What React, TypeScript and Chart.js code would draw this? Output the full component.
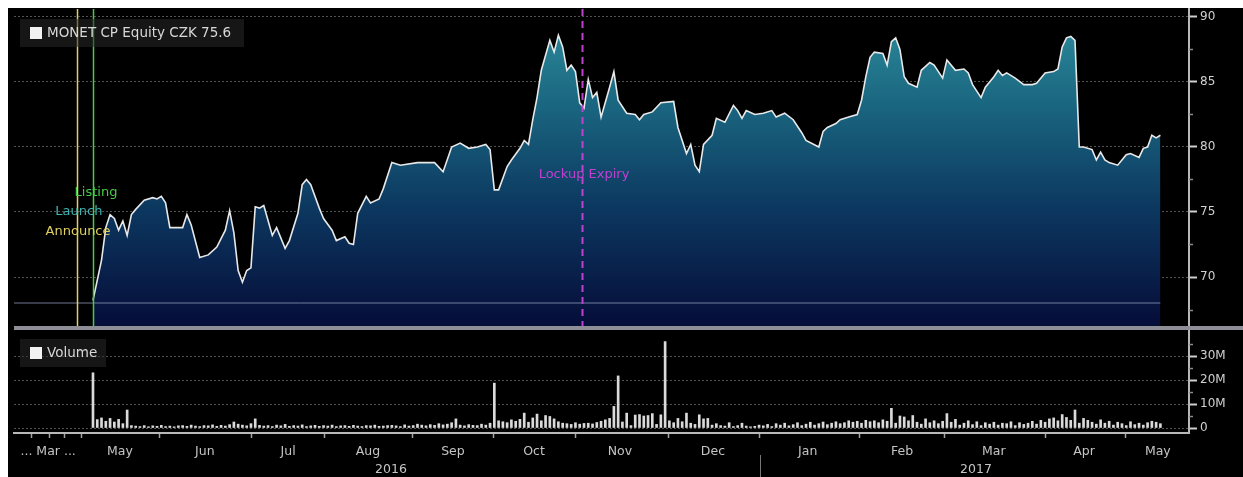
import { useEffect, useRef } from 'react';
import { Chart, registerables } from 'chart.js';

Chart.register(...registerables);

const FONT = '"DejaVu Sans", sans-serif';

// ---- data (trading-day index from listing day = 0) ----
const priceDays = [
  0, 2, 3, 4, 5, 6, 7, 8, 9, 10, 12, 14, 15, 16, 17, 18, 21, 22, 23, 25, 27, 29, 31, 32, 33, 34, 35, 36, 37, 38,
  39, 40, 42, 43, 45, 46, 48, 49, 50, 51, 53, 54, 56, 57, 59, 60, 61, 62, 64, 65, 67, 68, 70, 72, 76, 79, 80, 82,
  84, 86, 88, 90, 92, 93, 94, 95, 97, 98, 100, 101, 102, 103, 104, 105, 107, 108, 109, 110, 111, 112, 113, 114,
  115, 116, 117, 118, 119, 121, 122, 123, 125, 127, 128, 129, 131, 133, 136, 137, 139, 140, 141, 142, 143, 145,
  146, 148, 150, 151, 152, 153, 155, 157, 159, 160, 162, 164, 166, 167, 170, 171, 172, 174, 175, 177, 179, 180,
  181, 182, 183, 185, 186, 187, 188, 189, 190, 191, 193, 194, 196, 197, 199, 200, 202, 204, 205, 206, 208, 209,
  211, 212, 213, 214, 216, 218, 220, 221, 223, 225, 226, 227, 228, 229, 230, 231, 232, 234, 235, 236, 237, 238,
  240, 242, 243, 245, 246, 247, 248, 249, 250,
];
const priceValues = [
  68.2, 71.3, 73.8, 74.8, 74.5, 73.6, 74.3, 73.2, 74.8, 75.2, 75.9, 76.1, 76.0, 76.2, 75.7, 73.8, 73.8, 74.8, 74.0,
  71.5, 71.7, 72.3, 73.6, 75.1, 73.4, 70.5, 69.6, 70.5, 70.7, 75.4,
  75.3, 75.5, 73.2, 73.8, 72.2, 72.8, 74.9, 77.1, 77.5, 77.1, 75.3, 74.5, 73.6, 72.8, 73.1, 72.6, 72.5, 74.9, 76.2,
  75.7, 76.0, 76.8, 78.8, 78.6, 78.8, 78.8, 78.8, 78.1,
  80.0, 80.3, 79.9, 80.0, 80.2, 79.8, 76.7, 76.7, 78.5, 79.0, 79.9, 80.5, 80.2, 82.1, 83.8, 85.9, 88.2, 87.3, 88.6,
  87.7, 85.9, 86.3, 85.8, 83.4,
  83.0, 85.2, 83.8, 84.2, 82.3, 84.6, 85.8, 83.6, 82.6, 82.5, 82.1, 82.5, 82.7, 83.4, 83.5, 81.5, 79.5, 80.2, 78.6,
  78.1, 80.2, 80.9,
  82.2, 81.9, 83.2, 82.8, 82.2, 82.8, 82.5, 82.6, 82.8, 82.3, 82.6, 82.1, 81.1, 80.5, 80.0, 81.2, 81.5, 81.8, 82.1,
  82.3, 82.5, 83.6,
  85.4, 86.9, 87.3, 87.2, 86.3, 88.1, 88.4, 87.5, 85.4, 84.9, 84.6, 85.9, 86.5, 86.3, 85.3, 86.7, 85.9, 86.0, 85.7,
  84.8, 83.8, 84.6,
  85.4, 85.9, 85.5, 85.7, 85.3, 84.8, 84.8, 84.9, 85.7, 85.8, 86.0, 87.7, 88.4, 88.5, 88.2, 80.0, 80.0, 79.8, 79.0,
  79.6, 79.0, 78.8,
  78.6, 79.4, 79.5, 79.2, 79.9, 80.0, 80.9, 80.7, 80.9,
];
// daily volume, millions of shares (index = trading day)
const volumeMillions = [
  23, 3.5, 4.2, 2.8, 4.0, 2.5, 3.6, 1.8, 7.5, 1.0,
  0.8, 0.6, 1.0, 0.5, 0.9, 0.7, 1.1, 0.6, 0.8, 0.5,
  0.9, 1.0, 0.7, 1.2, 0.8, 0.6, 1.0, 0.9, 1.3, 0.7,
  1.1, 0.8, 1.4, 2.5, 1.6, 1.2, 0.9, 1.8, 3.8, 1.1,
  0.8, 1.0, 0.6, 1.2, 0.9, 1.5, 0.7, 1.0, 0.8, 1.3,
  0.6, 0.9, 1.1, 0.7, 1.0, 0.8, 1.2, 0.6, 0.9, 1.0,
  0.7, 1.1, 0.8, 0.6, 1.0, 0.9, 1.2, 0.7, 0.8, 1.0,
  1.1, 0.9, 0.6, 1.3, 0.8, 1.0, 1.6, 1.2, 0.9, 1.4,
  1.1, 1.8, 1.3, 1.6, 2.2, 3.8, 1.2, 0.9, 1.4, 1.1,
  1.0, 1.6, 1.2, 2.0, 18.7, 3.0, 2.6, 2.2, 3.4, 2.8,
  3.6, 6.2, 2.4, 4.2, 5.8, 3.0, 5.2, 4.8, 3.8, 2.6,
  2.0, 1.8, 1.5, 2.2, 1.6, 1.9, 2.0, 1.7, 2.3, 2.8,
  3.4, 4.0, 9.0, 21.7, 2.5, 6.2, 1.0, 5.4, 5.6, 5.0,
  5.2, 6.0, 1.5, 5.5, 36, 3.0, 2.2, 4.0, 2.6, 6.2,
  2.0, 1.5, 5.5, 3.8, 4.0, 1.2, 1.8, 1.0, 0.8, 2.2,
  0.6, 1.0, 2.0, 0.8, 0.5, 0.7, 1.2, 0.9, 1.5, 0.6,
  1.8, 1.2, 2.0, 0.9, 1.4, 2.2, 1.0, 1.6, 2.4, 1.2,
  1.8, 2.5, 1.4, 2.0, 2.6, 1.8, 2.2, 3.0, 2.4, 2.8,
  2.0, 3.2, 2.6, 3.0, 2.2, 3.4, 2.8, 8.2, 2.0, 5.0,
  4.6, 3.0, 5.2, 2.4, 1.6, 3.8, 2.2, 3.0, 1.8, 2.8,
  6.0, 2.4, 3.6, 1.2, 2.0, 3.0, 1.4, 2.6, 1.0, 2.2,
  1.6, 2.4, 1.2, 2.0, 1.8, 2.6, 1.0, 2.2, 1.5, 2.0,
  2.8, 1.6, 3.2, 2.4, 3.8, 4.2, 3.0, 5.6, 4.4, 3.2,
  7.5, 2.0, 4.0, 3.2, 2.4, 1.6, 3.4, 2.0, 2.8, 1.2,
  2.4, 1.8, 1.0, 2.6, 1.4, 2.0, 1.2, 2.2, 2.8, 2.4,
  1.8,
];
const ipoPrice = 68;
const lastPrice = 75.6;
const seriesName = 'MONET CP Equity CZK';

// axis ticks
const priceTicks = [70, 75, 80, 85, 90];
const priceMinorTicks = [67.5, 72.5, 77.5, 82.5, 87.5];
const volumeTicks = [0, 10, 20, 30];
const volumeMinorTicks = [5, 15, 25, 35];
const monthBoundaries = [-14.3, -10.1, -6.6, -2.6, 15.5, 37.2, 54.3, 74.9, 93.9, 112.9, 134.7, 156.2, 179.6, 199.5, 223, 241.9];
const monthLabels = ['... Mar ...', 'May', 'Jun', 'Jul', 'Aug', 'Sep', 'Oct', 'Nov', 'Dec', 'Jan', 'Feb', 'Mar', 'Apr', 'May'];
const monthCenters = [-10.5, 6.3, 26.2, 45.7, 64.4, 84.3, 103.3, 123.4, 145.2, 167.4, 189.5, 211, 232.1, 249.4];
const yearLabels = ['2016', '2017'];
const yearCenters = [69.8, 206.8];
const yearBreak = 156.2;

// events
const eventNames = ['Announce', 'Launch', 'Listing', 'Lockup Expiry'];
const eventDays = [-3.75, -3.75, 0, 114.5];
const eventColors = ['#e0d060', '#40b4b4', '#46cc46', '#c040d0'];
const eventHasLine = [true, false, true, true];

const X_MIN = -18.5;
const X_MAX = 256.7;

const overlayPlugin = {
  id: 'overlay',
  afterDraw(chart: any) {
    const { ctx, chartArea, scales } = chart;
    const xs = scales.x;
    const ys = scales.y;
    const yv = scales.yv;
    ctx.save();

    // event lines
    eventDays.forEach((d, i) => {
      if (!eventHasLine[i]) return;
      const px = Math.round(xs.getPixelForValue(d)) + 0.5;
      ctx.beginPath();
      ctx.strokeStyle = eventColors[i];
      ctx.lineWidth = i === 3 ? 2 : 1.5;
      ctx.setLineDash(i === 3 ? [7, 5] : []);
      ctx.moveTo(px, ys.top);
      ctx.lineTo(px, ys.bottom);
      ctx.stroke();
    });
    ctx.setLineDash([]);

    // event labels
    const labelOffsets = [
      { dx: 0.25, y: 73.46 },
      { dx: 0.45, y: 75.0 },
      { dx: 0.7, y: 76.46 },
      { dx: 0.5, y: 77.85 },
    ];
    ctx.font = `13px ${FONT}`;
    ctx.textAlign = 'center';
    ctx.textBaseline = 'middle';
    eventNames.forEach((name, i) => {
      const px = xs.getPixelForValue(eventDays[i] + labelOffsets[i].dx);
      const py = ys.getPixelForValue(labelOffsets[i].y);
      ctx.fillStyle = eventColors[i];
      ctx.fillText(name, px, py);
    });

    // separator bar between panels
    ctx.fillStyle = '#8e8e96';
    ctx.fillRect(chartArea.left, ys.bottom - 2, chart.width - chartArea.left, 4);

    // minor ticks on the right axes
    ctx.strokeStyle = '#8a8a8a';
    ctx.lineWidth = 1.5;
    priceMinorTicks.forEach((v) => {
      const py = Math.round(ys.getPixelForValue(v)) + 0.5;
      ctx.beginPath();
      ctx.moveTo(ys.left, py);
      ctx.lineTo(ys.left + 4, py);
      ctx.stroke();
    });
    volumeMinorTicks.forEach((v) => {
      const py = Math.round(yv.getPixelForValue(v)) + 0.5;
      ctx.beginPath();
      ctx.moveTo(yv.left, py);
      ctx.lineTo(yv.left + 4, py);
      ctx.stroke();
    });

    // year separator
    const bx = Math.round(xs.getPixelForValue(yearBreak)) + 0.5;
    ctx.strokeStyle = '#777';
    ctx.lineWidth = 1;
    ctx.beginPath();
    ctx.moveTo(bx, xs.top + 22);
    ctx.lineTo(bx, chart.height);
    ctx.stroke();

    // legends
    const drawLegend = (text: string, top: number, width: number) => {
      const lx = chartArea.left + 6;
      ctx.fillStyle = 'rgba(40,40,40,0.55)';
      ctx.fillRect(lx, top, width, 28);
      ctx.fillStyle = '#f2f2f2';
      ctx.fillRect(lx + 10, top + 8, 12, 12);
      ctx.font = `13.5px ${FONT}`;
      ctx.textAlign = 'left';
      ctx.textBaseline = 'middle';
      ctx.fillStyle = '#d8d8d8';
      ctx.fillText(text, lx + 27, top + 14.5);
    };
    drawLegend(`${seriesName} ${lastPrice}`, ys.top + 10, 224);
    drawLegend('Volume', yv.top + 11, 86);

    ctx.restore();
  },
};

const noPad = (s: any) => {
  s.paddingTop = 0;
  s.paddingBottom = 0;
  s.paddingLeft = 0;
  s.paddingRight = 0;
};

export default function App() {
  const ref = useRef<HTMLCanvasElement>(null);

  useEffect(() => {
    const canvas = ref.current;
    if (!canvas) return;

    const boundarySet = new Set(monthBoundaries);
    const labelMap = new Map<number, any>();
    monthBoundaries.forEach((v) => labelMap.set(v, ''));
    monthCenters.forEach((v, i) => labelMap.set(v, monthLabels[i]));
    yearCenters.forEach((v, i) => labelMap.set(v, ['', yearLabels[i]]));
    const xTickValues = [...monthBoundaries, ...monthCenters, ...yearCenters].sort((a, b) => a - b);

    const priceData = priceDays.map((d, i) => ({ x: d, y: priceValues[i] }));
    const volumeData = volumeMillions.map((v, i) => ({ x: i, y: v }));
    const lastDay = priceDays[priceDays.length - 1];

    const chart = new Chart(canvas, {
      type: 'line',
      data: {
        datasets: [
          {
            type: 'line',
            data: [
              { x: X_MIN, y: ipoPrice },
              { x: lastDay, y: ipoPrice },
            ],
            yAxisID: 'y',
            borderColor: 'rgba(160,172,205,0.7)',
            borderWidth: 1,
            pointRadius: 0,
            fill: false,
          },
          {
            type: 'line',
            data: priceData,
            yAxisID: 'y',
            borderColor: '#e8e8e8',
            borderWidth: 1.6,
            pointRadius: 0,
            tension: 0,
            fill: 'start',
            backgroundColor: (c: any) => {
              const ch = c.chart;
              const ys = ch.scales.y;
              if (!ch.chartArea || !ys) return 'rgba(20,80,110,1)';
              const g = ch.ctx.createLinearGradient(0, ys.top, 0, ys.bottom);
              g.addColorStop(0, 'rgb(46,142,158)');
              g.addColorStop(0.3, 'rgb(26,102,128)');
              g.addColorStop(0.62, 'rgb(12,56,96)');
              g.addColorStop(1, 'rgb(5,12,56)');
              return g;
            },
          },
          {
            type: 'bar',
            data: volumeData,
            yAxisID: 'yv',
            backgroundColor: '#dadada',
            barThickness: 2,
          },
        ] as any,
      },
      options: {
        animation: false,
        responsive: true,
        maintainAspectRatio: false,
        layout: { padding: { left: 6, top: 1, right: 0, bottom: 0 } },
        plugins: { legend: { display: false }, tooltip: { enabled: false } },
        events: [],
        scales: {
          x: {
            type: 'linear',
            offset: false,
            min: X_MIN,
            max: X_MAX,
            afterBuildTicks: (s: any) => {
              s.ticks = xTickValues.map((v) => ({ value: v }));
            },
            afterFit: (s: any) => {
              s.height = 44;
              noPad(s);
            },
            ticks: {
              autoSkip: false,
              maxRotation: 0,
              minRotation: 0,
              padding: 5,
              color: '#c4c4c4',
              font: { family: FONT, size: 12.5, lineHeight: 1.4 },
              callback: (v: any) => (labelMap.has(v) ? labelMap.get(v) : ''),
            },
            grid: {
              offset: false,
              drawOnChartArea: false,
              drawTicks: true,
              tickLength: 5,
              tickWidth: 1.5,
              tickColor: (c: any) => (c.tick && boundarySet.has(c.tick.value) ? '#a0a0a0' : 'rgba(0,0,0,0)'),
            },
            border: { color: '#b8b8b8', width: 2 },
          },
          y: {
            type: 'linear',
            position: 'right',
            stack: 'panels',
            stackWeight: 319,
            min: 66.077,
            max: 90.615,
            z: 1,
            afterBuildTicks: (s: any) => {
              s.ticks = priceTicks.map((v) => ({ value: v }));
            },
            afterFit: (s: any) => {
              s.width = 54;
              noPad(s);
            },
            ticks: {
              padding: 3,
              color: '#d0d0d0',
              font: { family: FONT, size: 12 },
              callback: (v: any) => String(v),
            },
            grid: {
              color: 'rgba(150,150,150,0.55)',
              lineWidth: 1,
              tickColor: '#cfcfcf',
              tickLength: 8,
              tickWidth: 2,
            },
            border: { color: '#b8b8b8', width: 2, dash: [2, 2] },
          },
          yv: {
            type: 'linear',
            position: 'right',
            stack: 'panels',
            stackWeight: 105,
            min: -2.083,
            max: 41.667,
            z: 1,
            afterBuildTicks: (s: any) => {
              s.ticks = volumeTicks.map((v) => ({ value: v }));
            },
            afterFit: (s: any) => {
              s.width = 54;
              noPad(s);
            },
            ticks: {
              padding: 3,
              color: '#d0d0d0',
              font: { family: FONT, size: 12 },
              callback: (v: any) => (v === 0 ? '0' : `${v}M`),
            },
            grid: {
              color: 'rgba(150,150,150,0.55)',
              lineWidth: 1,
              tickColor: '#cfcfcf',
              tickLength: 8,
              tickWidth: 2,
            },
            border: { color: '#b8b8b8', width: 2, dash: [2, 2] },
          },
        },
      } as any,
      plugins: [overlayPlugin],
    });

    return () => chart.destroy();
  }, []);

  return (
    <div
      style={{
        position: 'fixed',
        left: 8,
        top: 8,
        width: 1235,
        height: 469,
        background: '#000',
      }}
    >
      <canvas ref={ref} />
    </div>
  );
}
